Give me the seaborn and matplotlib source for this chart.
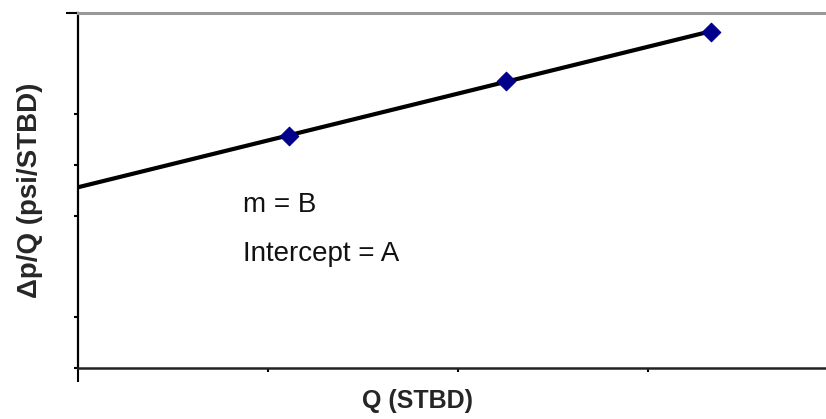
import numpy as np
import pandas as pd
import matplotlib
matplotlib.use("Agg")
import matplotlib.pyplot as plt
import seaborn as sns

# Data
q_stbd = [1.11, 2.25, 3.33]
dp_over_q = [4.58, 5.66, 6.63]
y_ticks = [0, 1, 3, 4, 5, 7]
x_ticks = [0, 1, 2, 3]
annot_lines = ["m = B", "Intercept = A"]

sns.set_style("white")
plt.rcParams["font.family"] = ["Liberation Sans", "DejaVu Sans"]

fig = plt.figure(figsize=(8.26, 4.19), dpi=100)
ax = fig.add_axes([78 / 826, 1 - 368 / 419, 1 - 78 / 826, (368 - 13) / 419])

df = pd.DataFrame({"Q": q_stbd, "dpq": dp_over_q})
slope, intercept = np.polyfit(df["Q"], df["dpq"], 1)
fit = pd.DataFrame({"Q": [0.0, max(q_stbd)]})
fit["dpq"] = intercept + slope * fit["Q"]

sns.lineplot(data=fit, x="Q", y="dpq", ax=ax, color="black", linewidth=3.0)
sns.scatterplot(data=df, x="Q", y="dpq", ax=ax, marker="D", s=90,
                color="#00008b", edgecolor="#00008b", zorder=3)

ax.set_xlim(0, (826 - 78) / 190)
ax.set_ylim(0, 7)
ax.set_xticks(x_ticks)
ax.set_yticks(y_ticks)
ax.set_xticklabels([])
ax.set_yticklabels([])
ax.tick_params(axis="both", direction="out", length=3, width=1.5, color="black",
               bottom=True, left=True)

for t in ax.yaxis.get_major_ticks():
    if t.get_loc() == y_ticks[-1]:
        t.tick1line.set_markersize(9)
for t in ax.xaxis.get_major_ticks():
    if t.get_loc() == x_ticks[0]:
        t.tick1line.set_markersize(10)

ax.spines["left"].set_color("black")
ax.spines["left"].set_linewidth(1.6)
ax.spines["bottom"].set_color("#222222")
ax.spines["bottom"].set_linewidth(1.8)
ax.spines["top"].set_color("#999999")
ax.spines["top"].set_linewidth(2.2)
ax.spines["right"].set_visible(False)

ax.set_xlabel("Q (STBD)", fontsize=18, fontweight="bold")
ax.xaxis.label.set_va("center")
ax.xaxis.set_label_coords(0.4545, -0.093)
ax.set_ylabel("Δp/Q (psi/STBD)", fontsize=20, fontweight="bold")
ax.yaxis.label.set_va("center")
ax.yaxis.set_label_coords(-0.064, 0.5)

ax.text(0.2206, 0.439, annot_lines[0], transform=ax.transAxes, fontsize=20,
        va="baseline", ha="left", color="#111111")
ax.text(0.2206, 0.301, annot_lines[1], transform=ax.transAxes, fontsize=20,
        va="baseline", ha="left", color="#111111")

fig.savefig("out.png", dpi=100)
